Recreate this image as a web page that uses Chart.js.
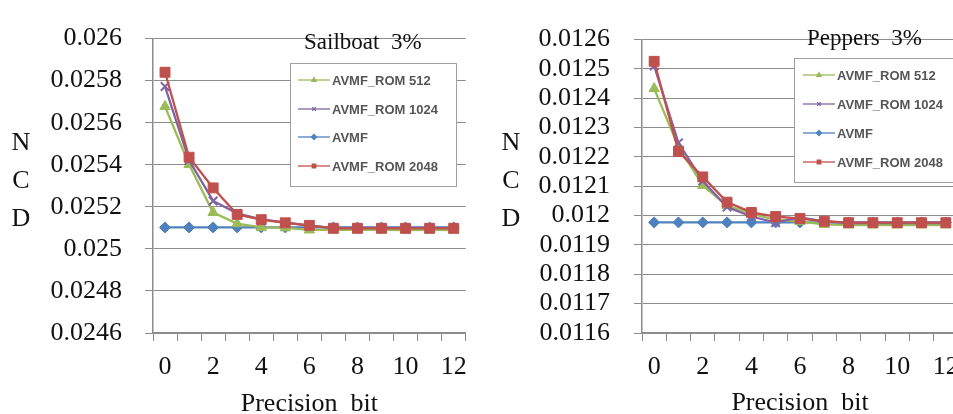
<!DOCTYPE html>
<html>
<head>
<meta charset="utf-8">
<script src="https://cdn.jsdelivr.net/npm/chart.js@4/dist/chart.umd.min.js"></script>
<style>
  html, body { margin: 0; padding: 0; background: #fff; width: 953px; height: 414px; overflow: hidden; }
  .wrap { position: absolute; top: 0; height: 414px; }
  #leftWrap { left: 0; width: 478px; }
  #rightWrap { left: 480px; width: 495px; }
</style>
</head>
<body>
<div class="wrap" id="leftWrap"><canvas id="leftChart" width="478" height="414"></canvas></div>
<div class="wrap" id="rightWrap"><canvas id="rightChart" width="495" height="414"></canvas></div>
<script>
// ---- data ----
const precisionBits = ['0','1','2','3','4','5','6','7','8','9','10','11','12'];
const xTickLabels = ['0','','2','','4','','6','','8','','10','','12'];
const seriesNames = ['AVMF_ROM 512', 'AVMF_ROM 1024', 'AVMF', 'AVMF_ROM 2048'];

const sailboatRom512  = [0.025677, 0.025401, 0.025173, 0.025120, 0.025102, 0.025100, 0.025090, 0.025090, 0.025090, 0.025090, 0.025089, 0.025090, 0.025089];
const sailboatRom1024 = [0.025772, 0.025421, 0.025228, 0.025169, 0.025140, 0.025126, 0.025110, 0.025100, 0.025100, 0.025100, 0.025100, 0.025100, 0.025100];
const sailboatAvmf    = [0.025102, 0.025102, 0.025102, 0.025102, 0.025102, 0.025102, 0.025102, 0.025102, 0.025102, 0.025102, 0.025102, 0.025102, 0.025102];
const sailboatRom2048 = [0.025840, 0.025436, 0.025290, 0.025164, 0.025139, 0.025124, 0.025112, 0.025098, 0.025098, 0.025098, 0.025098, 0.025098, 0.025098];

const peppersRom512  = [0.012433, 0.012235, 0.012103, 0.012034, 0.012007, 0.011986, 0.011980, 0.011970, 0.011968, 0.011968, 0.011968, 0.011968, 0.011968];
const peppersRom1024 = [0.012510, 0.012248, 0.012118, 0.012029, 0.011997, 0.011976, 0.011994, 0.011980, 0.011975, 0.011975, 0.011975, 0.011975, 0.011975];
const peppersAvmf    = [0.011977, 0.011977, 0.011977, 0.011977, 0.011977, 0.011977, 0.011977, 0.011977, 0.011977, 0.011977, 0.011977, 0.011977, 0.011977];
const peppersRom2048 = [0.012526, 0.012219, 0.012132, 0.012046, 0.012011, 0.011997, 0.011990, 0.011981, 0.011976, 0.011976, 0.011976, 0.011976, 0.011976];

const sailboatYTicks = [0.0246, 0.0248, 0.025, 0.0252, 0.0254, 0.0256, 0.0258, 0.026];
const sailboatYLabels = ['0.0246', '0.0248', '0.025', '0.0252', '0.0254', '0.0256', '0.0258', '0.026'];
const peppersYTicks = [0.0116, 0.0117, 0.0118, 0.0119, 0.012, 0.0121, 0.0122, 0.0123, 0.0124, 0.0125, 0.0126];
const peppersYLabels = ['0.0116', '0.0117', '0.0118', '0.0119', '0.012', '0.0121', '0.0122', '0.0123', '0.0124', '0.0125', '0.0126'];

// ---- styles ----
const colors = ['#9BBB59', '#8064A2', '#4F81BD', '#C0504D'];
const pointStyles = ['triangle', 'crossRot', 'rectRot', 'rect'];
const pointRadii = [6, 6, 5.5, 7];
const drawOrder = [2, 1, 3, 0];
const gridColor = '#8c8c8c';
const serif = '"Liberation Serif", "Times New Roman", serif';

function makeDatasets(values) {
  return values.map((v, i) => ({
    label: seriesNames[i],
    data: v,
    borderColor: colors[i],
    backgroundColor: colors[i],
    pointBackgroundColor: colors[i],
    pointBorderColor: colors[i],
    pointStyle: pointStyles[i],
    pointRadius: pointRadii[i],
    pointBorderWidth: i === 1 ? 2 : 1,
    borderWidth: 2.3,
    tension: 0,
    order: drawOrder[i]
  }));
}

const decorPlugin = {
  id: 'decor',
  afterDraw(chart, args, opts) {
    const ctx = chart.ctx;
    const area = chart.chartArea;
    ctx.save();
    // Title
    ctx.fillStyle = '#111';
    ctx.font = '23px ' + serif;
    ctx.textAlign = 'left';
    ctx.textBaseline = 'alphabetic';
    ctx.fillText(opts.title, opts.titleX, opts.titleY);
    // NCD
    ctx.font = '26px ' + serif;
    ctx.textAlign = 'center';
    ['N', 'C', 'D'].forEach((ch, i) => ctx.fillText(ch, opts.ncdX, 150 + i * 38));
    // x axis title
    ctx.fillText('Precision  bit', (area.left + area.right) / 2, opts.xTitleY);
    // legend
    const L = opts.legend;
    ctx.fillStyle = '#fff';
    ctx.fillRect(L.x, L.y, L.w, L.h);
    ctx.strokeStyle = '#a0a0a0';
    ctx.lineWidth = 1;
    ctx.strokeRect(L.x + 0.5, L.y + 0.5, L.w, L.h);
    chart.data.datasets.forEach((ds, i) => {
      const y = L.rows[i];
      ctx.strokeStyle = ds.borderColor;
      ctx.lineWidth = 1.3;
      ctx.beginPath();
      ctx.moveTo(L.lineX, y);
      ctx.lineTo(L.lineX + 32, y);
      ctx.stroke();
      ctx.fillStyle = ds.borderColor;
      Chart.helpers.drawPoint(ctx, { pointStyle: ds.pointStyle, radius: 2.5, rotation: 0, borderWidth: 1 }, L.lineX + 16, y);
      ctx.fillStyle = '#555';
      ctx.font = 'bold 13px "Liberation Sans", Arial, sans-serif';
      ctx.textAlign = 'left';
      ctx.textBaseline = 'middle';
      ctx.fillText(ds.label, L.lineX + 34, y + 1);
    });
    ctx.restore();
  }
};

function makeChart(canvasId, values, yTicks, yLabels, cfg) {
  return new Chart(document.getElementById(canvasId), {
    type: 'line',
    data: { labels: precisionBits, datasets: makeDatasets(values) },
    plugins: [decorPlugin],
    options: {
      responsive: false,
      animation: false,
      layout: { padding: { top: 18, right: cfg.padRight, bottom: 0, left: 0 } },
      plugins: {
        legend: { display: false },
        tooltip: { enabled: false },
        decor: cfg.decor
      },
      scales: {
        x: {
          type: 'category',
          offset: true,
          grid: { offset: true, drawOnChartArea: false, drawTicks: true, tickLength: 8, color: gridColor, lineWidth: 1 },
          border: { display: true, color: gridColor, width: 1.5 },
          ticks: {
            autoSkip: false, maxRotation: 0, minRotation: 0, padding: 11,
            color: '#111', font: { family: serif, size: 26 },
            callback: (v, i) => xTickLabels[i]
          },
          afterFit: (s) => { s.height = 81; }
        },
        y: {
          min: yTicks[0],
          max: yTicks[yTicks.length - 1],
          grid: { color: gridColor, lineWidth: 1, tickLength: 8 },
          border: { display: true, color: gridColor, width: 1.5 },
          afterBuildTicks: (s) => { s.ticks = yTicks.map(v => ({ value: v })); },
          ticks: {
            autoSkip: false,
            padding: cfg.yPad,
            color: '#111', font: { family: serif, size: 26 },
            callback: (v, i) => yLabels[i]
          },
          afterFit: (s) => { s.width = cfg.yWidth; }
        }
      }
    }
  });
}

makeChart('leftChart', [sailboatRom512, sailboatRom1024, sailboatAvmf, sailboatRom2048], sailboatYTicks, sailboatYLabels, {
  padRight: 9, yWidth: 153, yPad: 23,
  decor: {
    title: 'Sailboat  3%', titleX: 304, titleY: 49, ncdX: 21, xTitleY: 411,
    legend: { x: 290, y: 63, w: 166, h: 123, lineX: 298, rows: [80, 109, 137, 166] }
  }
});

makeChart('rightChart', [peppersRom512, peppersRom1024, peppersAvmf, peppersRom2048], peppersYTicks, peppersYLabels, {
  padRight: 17, yWidth: 162, yPad: 24,
  decor: {
    title: 'Peppers  3%', titleX: 327, titleY: 45, ncdX: 31, xTitleY: 410,
    legend: { x: 314, y: 58, w: 200, h: 124, lineX: 323, rows: [75, 104, 133, 162] }
  }
});
</script>
</body>
</html>
